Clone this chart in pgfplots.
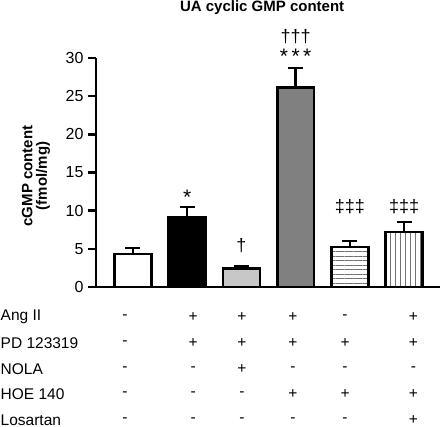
\documentclass[border=0pt]{standalone}
\usepackage{fontspec}
\setmainfont{Liberation Sans}
\usepackage{pgfplots}
\pgfplotsset{compat=1.18}
\usetikzlibrary{patterns.meta}
\begin{document}
\begin{tikzpicture}
\begin{axis}[
  at={(0pt,0pt)}, anchor=south west,
  scale only axis, width=344pt, height=229pt,
  xmin=-0.68, xmax=5.66, ymin=0, ymax=30,
  enlargelimits=false,
  axis lines*=left,
  axis line style={line width=2.6pt},
  ytick={0,5,10,15,20,25,30},
  xtick=\empty,
  tick align=outside,
  major tick length=8pt,
  ytick style={line width=2.4pt, black},
  /pgf/number format/assume math mode=true,
  yticklabel style={font=\fontsize{16}{18}\selectfont, xshift=-1pt},
  clip=false,
  ybar, bar width=0.68, bar shift=0pt,
  every axis plot/.append style={draw=black, line width=2.6pt},
  error bars/y dir=plus, error bars/y explicit,
  error bars/error bar style={line width=2.4pt, black},
  error bars/error mark options={rotate=90, mark size=7.5pt, line width=2.4pt, black},
]
\addplot[fill=white] coordinates {(0,4.3) +- (0,0.77)};
\addplot[fill=black] coordinates {(1,9.08) +- (0,1.37)};
\addplot[fill=black!22] coordinates {(2,2.4) +- (0,0.35)};
\addplot[fill=black!50] coordinates {(3,26.1) +- (0,2.6)};
\addplot[fill=white, pattern={Lines[angle=0, distance=4.5pt, line width=0.9pt]}, pattern color=black!55] coordinates {(4,5.24) +- (0,0.75)};
\addplot[fill=white, pattern={Lines[angle=90, distance=5pt, line width=0.9pt]}, pattern color=black!55] coordinates {(5,7.2) +- (0,1.28)};

% title
\node[font=\fontsize{15}{17}\selectfont\bfseries, inner sep=0pt, anchor=center]
  at (axis description cs:0.483,1.218) {UA cyclic GMP content};

% y label, two lines
\node[rotate=90, font=\fontsize{15}{16.5}\selectfont\bfseries, inner sep=0pt, anchor=center]
  at (axis description cs:-0.2,0.485) {cGMP content};
\node[rotate=90, font=\fontsize{15}{16.5}\selectfont\bfseries, inner sep=0pt, anchor=center]
  at (axis description cs:-0.154,0.485) {(fmol/mg)};

% significance marks
\node[font=\fontsize{21}{22}\selectfont, inner sep=0pt] at (axis cs:1,11.7) {*};
\node[font=\fontsize{18}{20}\selectfont, inner sep=0pt] at (axis cs:2,5.4) {†};
\node[font=\fontsize{21}{22}\selectfont, inner sep=0pt] at (axis cs:3,30.2) {*\,*\,*};
\node[font=\fontsize{18}{20}\selectfont, inner sep=0pt] at (axis cs:3,32.8) {†††};
\node[font=\fontsize{18}{20}\selectfont, inner sep=0pt] at (axis cs:4,10.5) {‡‡‡};
\node[font=\fontsize{18}{20}\selectfont, inner sep=0pt] at (axis cs:5,10.5) {‡‡‡};

% treatment table
\begin{scope}[every node/.style={font=\fontsize{15.5}{17}\selectfont, inner sep=0pt}]
\node[anchor=west] at (axis cs:-2.44,-3.93) {Ang II};
\node[anchor=west] at (axis cs:-2.44,-7.34) {PD 123319};
\node[anchor=west] at (axis cs:-2.44,-10.75) {NOLA};
\node[anchor=west] at (axis cs:-2.44,-14.0) {HOE 140};
\node[anchor=west] at (axis cs:-2.44,-17.4) {Losartan};
% column 1
\node at (axis cs:-0.145,-3.93) {-};
\node at (axis cs:-0.145,-7.34) {-};
\node at (axis cs:-0.145,-10.75) {-};
\node at (axis cs:-0.145,-14.0) {-};
\node at (axis cs:-0.145,-17.4) {-};
% column 2
\node at (axis cs:1.11,-3.93) {+};
\node at (axis cs:1.11,-7.34) {+};
\node at (axis cs:1.11,-10.75) {-};
\node at (axis cs:1.11,-14.0) {-};
\node at (axis cs:1.11,-17.4) {-};
% column 3
\node at (axis cs:2.01,-3.93) {+};
\node at (axis cs:2.01,-7.34) {+};
\node at (axis cs:2.01,-10.75) {+};
\node at (axis cs:2.01,-14.0) {-};
\node at (axis cs:2.01,-17.4) {-};
% column 4
\node at (axis cs:2.95,-3.93) {+};
\node at (axis cs:2.95,-7.34) {+};
\node at (axis cs:2.95,-10.75) {-};
\node at (axis cs:2.95,-14.0) {+};
\node at (axis cs:2.95,-17.4) {-};
% column 5
\node at (axis cs:3.91,-3.93) {-};
\node at (axis cs:3.91,-7.34) {+};
\node at (axis cs:3.91,-10.75) {-};
\node at (axis cs:3.91,-14.0) {+};
\node at (axis cs:3.91,-17.4) {-};
% column 6
\node at (axis cs:5.17,-3.93) {+};
\node at (axis cs:5.17,-7.34) {+};
\node at (axis cs:5.17,-10.75) {-};
\node at (axis cs:5.17,-14.0) {+};
\node at (axis cs:5.17,-17.4) {+};
\end{scope}
\end{axis}
\pgfresetboundingbox
\path (-96pt,-140pt) rectangle (346pt,287pt);
\end{tikzpicture}
\end{document}
